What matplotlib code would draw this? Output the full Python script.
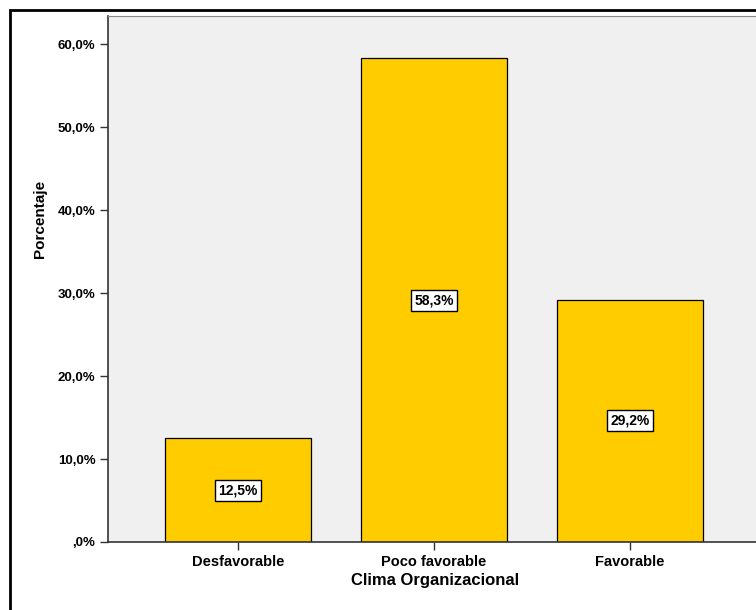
import matplotlib
matplotlib.use("Agg")
import matplotlib.pyplot as plt
from matplotlib.patches import Rectangle
from matplotlib.ticker import FuncFormatter

categorias = ["Desfavorable", "Poco favorable", "Favorable"]
porcentajes = [12.5, 58.3, 29.2]
y_ticks = [0, 10, 20, 30, 40, 50, 60]

FONT = ["Liberation Sans Narrow", "Liberation Sans", "DejaVu Sans"]
plt.rcParams["font.family"] = FONT

W, H = 756, 610
fig = plt.figure(figsize=(W / 100, H / 100), dpi=100)
fig.patch.set_facecolor("white")


def fx(px):
    return px / W


def fy(px):
    return 1 - px / H


# marco exterior
fig.patches.append(Rectangle((fx(10), fy(650)), fx(800), 640 / H, transform=fig.transFigure,
                             fill=False, edgecolor="black", linewidth=2))

# titulo (queda cortado por arriba)
fig.text(fx(462), fy(-4), "Clima Organizacional", ha="center", va="baseline",
         fontsize=15, fontweight="bold")

ax = fig.add_axes([fx(108), fy(542), fx(760 - 108), (542 - 16) / H])
ax.set_facecolor("#f0f0f0")

x = list(range(len(categorias)))
ax.bar(x, porcentajes, width=0.745, color="#ffcc00", edgecolor="black", linewidth=0.9, zorder=2)

for xi, v in zip(x, porcentajes):
    ax.text(xi, v / 2, f"{v:.1f}%".replace(".", ","), ha="center", va="center",
            fontsize=10, fontweight="bold", zorder=3,
            bbox=dict(boxstyle="square,pad=0.25", facecolor="white", edgecolor="black", linewidth=1))

ax.set_xlim(-0.663, 2.663)
ax.set_ylim(0, 63.4)
ax.set_xticks(x)
ax.set_xticklabels(categorias, fontsize=10.5, fontweight="bold")
ax.set_yticks(y_ticks)


def fmt(v, pos):
    return ",0%" if v == 0 else f"{v:.1f}%".replace(".", ",")


ax.yaxis.set_major_formatter(FuncFormatter(fmt))
for lbl in ax.get_yticklabels():
    lbl.set_fontweight("bold")
    lbl.set_fontsize(9.5)
ax.tick_params(axis="both", length=6, width=1, color="#333333", pad=3)

for side in ["top", "right"]:
    ax.spines[side].set_color("#888888")
for side in ["left", "bottom"]:
    ax.spines[side].set_color("#333333")
    ax.spines[side].set_linewidth(1.2)

fig.text(fx(435), fy(580), "Clima Organizacional", ha="center", va="center",
         fontsize=12, fontweight="bold")
fig.text(fx(40), fy(219), "Porcentaje", ha="center", va="center", rotation=90,
         fontsize=11, fontweight="bold")

fig.savefig("out.png", dpi=100)
